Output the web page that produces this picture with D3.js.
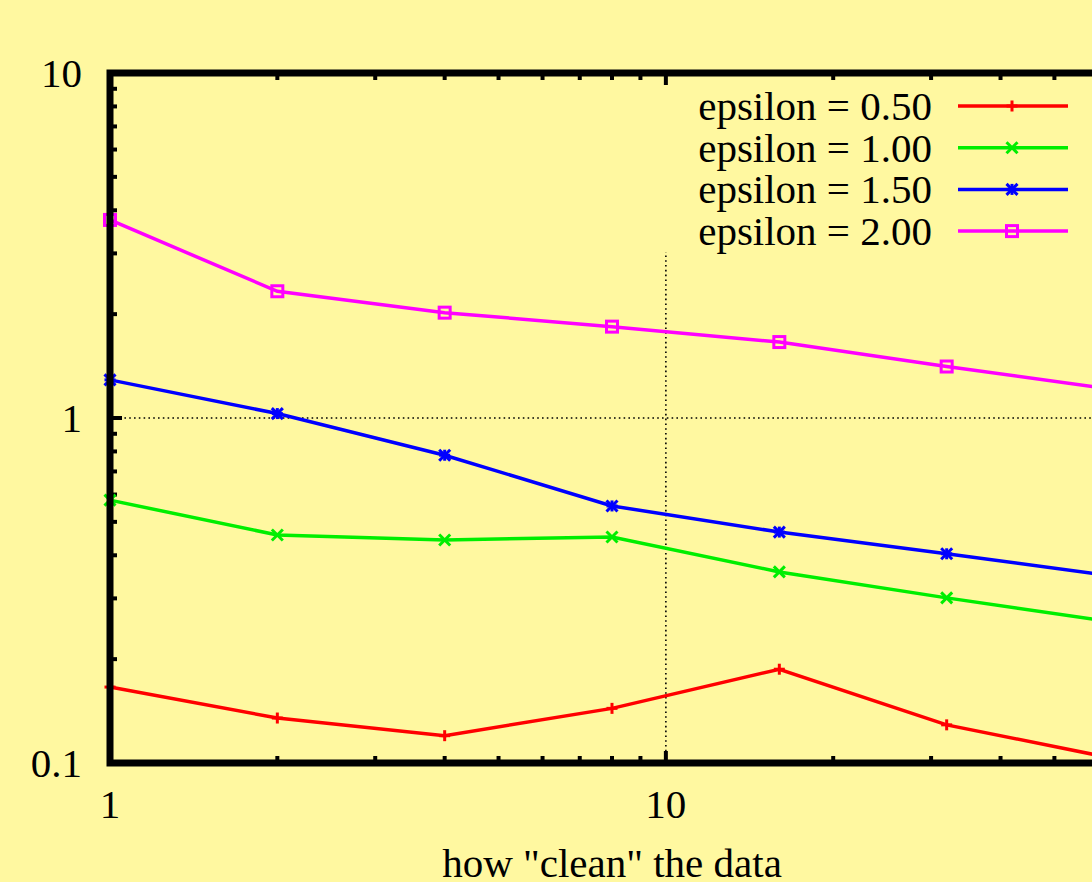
<!DOCTYPE html>
<html>
<head>
<meta charset="utf-8">
<script src="https://cdn.jsdelivr.net/npm/d3@7"></script>
<style>
  html, body { margin: 0; padding: 0; background: #fff8a0; overflow: hidden; }
  svg text { font-family: "Liberation Serif", "DejaVu Serif", serif; fill: #000; }
</style>
</head>
<body>
<div class="chart"></div>
<script>
// data
var xValues = [1, 2, 4, 8, 16, 32, 64];
var seriesNames = ["epsilon = 0.50", "epsilon = 1.00", "epsilon = 1.50", "epsilon = 2.00"];
var eps050 = [0.166, 0.135, 0.120, 0.144, 0.187, 0.129, 0.103];
var eps100 = [0.578, 0.458, 0.443, 0.452, 0.358, 0.301, 0.256];
var eps150 = [1.29, 1.03, 0.78, 0.556, 0.467, 0.404, 0.348];
var eps200 = [3.75, 2.33, 2.02, 1.84, 1.66, 1.41, 1.21];
var xTicks = [1, 10];
var yTicks = [0.1, 1, 10];
var xLabel = 'how "clean" the data';

var colors = ["#ff0000", "#00ee00", "#0000ff", "#ff00ff"];
var markers = ["plus", "cross", "star", "square"];
var allSeries = [eps050, eps100, eps150, eps200];

var width = 1092, height = 882;
// plot box (window.top is reserved, so use own names)
var plotL = 110, plotR = 1114, plotT = 73, plotB = 763;

var x = d3.scaleLog().domain([1, 64]).range([plotL, plotR]);
var y = d3.scaleLog().domain([0.1, 10]).range([plotB, plotT]);

var svg = d3.select("div.chart")
    .append("svg")
    .attr("width", width)
    .attr("height", height);

svg.append("rect")
    .attr("width", width)
    .attr("height", height)
    .attr("fill", "#fff8a0");

// grid (dotted), only at inner major ticks
var grid = svg.append("g").attr("class", "grid");
grid.selectAll("line.gx")
    .data(xTicks.filter(function (d) { return d != 1; }))
    .enter().append("line")
    .attr("x1", function (d) { return x(d); })
    .attr("x2", function (d) { return x(d); })
    .attr("y1", plotT)
    .attr("y2", plotB);
grid.selectAll("line.gy")
    .data(yTicks.filter(function (d) { return d != 0.1 && d != 10; }))
    .enter().append("line")
    .attr("x1", plotL)
    .attr("x2", plotR)
    .attr("y1", function (d) { return y(d); })
    .attr("y2", function (d) { return y(d); });
grid.selectAll("line")
    .attr("stroke", "#000")
    .attr("stroke-width", 1.6)
    .attr("stroke-dasharray", "1.6,3.2");

// minor / major ticks
var xMinor = [], yMinor = [];
[1, 10].forEach(function (dec) {
    for (var k = 2; k <= 9; k++) {
        if (dec * k <= 64) xMinor.push(dec * k);
    }
});
[0.1, 1].forEach(function (dec) {
    for (var k = 2; k <= 9; k++) yMinor.push(dec * k);
});

var ticks = svg.append("g").attr("class", "ticks")
    .attr("stroke", "#000")
    .attr("stroke-width", 4);

function xTick(v, len) {
    ticks.append("line").attr("x1", x(v)).attr("x2", x(v)).attr("y1", plotB).attr("y2", plotB - len);
    ticks.append("line").attr("x1", x(v)).attr("x2", x(v)).attr("y1", plotT).attr("y2", plotT + len);
}
function yTick(v, len) {
    ticks.append("line").attr("x1", plotL).attr("x2", plotL + len).attr("y1", y(v)).attr("y2", y(v));
    ticks.append("line").attr("x1", plotR).attr("x2", plotR - len).attr("y1", y(v)).attr("y2", y(v));
}
xMinor.forEach(function (v) { xTick(v, 7); });
xTicks.forEach(function (v) { xTick(v, 12); });
yMinor.forEach(function (v) { yTick(v, 7); });
yTicks.forEach(function (v) { yTick(v, 12); });

// tick labels
svg.selectAll("text.xt")
    .data(xTicks)
    .enter().append("text")
    .attr("class", "xt")
    .attr("x", function (d) { return x(d); })
    .attr("y", 818)
    .attr("text-anchor", "middle")
    .style("font-size", "41px")
    .text(function (d) { return d; });

svg.selectAll("text.yt")
    .data(yTicks)
    .enter().append("text")
    .attr("class", "yt")
    .attr("x", 82)
    .attr("y", function (d) { return y(d) + 14; })
    .attr("text-anchor", "end")
    .style("font-size", "41px")
    .text(function (d) { return d; });

svg.append("text")
    .attr("x", (plotL + plotR) / 2)
    .attr("y", 877)
    .attr("text-anchor", "middle")
    .style("font-size", "41px")
    .text(xLabel);

// markers
function drawMarker(g, type, cx, cy, color) {
    var s = 5.5;
    if (type == "plus" || type == "star") {
        g.append("line").attr("x1", cx - s).attr("x2", cx + s).attr("y1", cy).attr("y2", cy);
        g.append("line").attr("x1", cx).attr("x2", cx).attr("y1", cy - s).attr("y2", cy + s);
    }
    if (type == "cross" || type == "star") {
        g.append("line").attr("x1", cx - s).attr("x2", cx + s).attr("y1", cy - s).attr("y2", cy + s);
        g.append("line").attr("x1", cx - s).attr("x2", cx + s).attr("y1", cy + s).attr("y2", cy - s);
    }
    if (type == "square") {
        g.append("rect").attr("x", cx - 5.5).attr("y", cy - 5.5).attr("width", 11).attr("height", 11)
            .attr("fill", "none");
    }
    g.selectAll("line, rect").attr("stroke", color).attr("stroke-width", 3);
}

var line = d3.line()
    .x(function (d) { return x(d[0]); })
    .y(function (d) { return y(d[1]); });

allSeries.forEach(function (vals, i) {
    var pts = xValues.map(function (xv, j) { return [xv, vals[j]]; });
    var g = svg.append("g").attr("class", "series");
    g.append("path")
        .attr("d", line(pts))
        .attr("fill", "none")
        .attr("stroke", colors[i])
        .attr("stroke-width", 3.5);
    pts.forEach(function (p) {
        var m = g.append("g");
        drawMarker(m, markers[i], x(p[0]), y(p[1]), colors[i]);
    });
});

// key (opaque box hides the grid behind it)
var key = svg.append("g").attr("class", "key");
key.append("rect")
    .attr("x", 655)
    .attr("y", plotT + 13)
    .attr("width", plotR - 655 - 13)
    .attr("height", 252 - plotT - 13)
    .attr("fill", "#fff8a0");

seriesNames.forEach(function (name, i) {
    var ky = 106 + i * 41.7;
    key.append("text")
        .attr("x", 932)
        .attr("y", ky + 14)
        .attr("text-anchor", "end")
        .style("font-size", "41px")
        .text(name);
    key.append("line")
        .attr("x1", 958).attr("x2", 1068)
        .attr("y1", ky).attr("y2", ky)
        .attr("stroke", colors[i])
        .attr("stroke-width", 3.5);
    var m = key.append("g");
    drawMarker(m, markers[i], 1012, ky, colors[i]);
});

// frame
svg.append("rect")
    .attr("x", plotL)
    .attr("y", plotT)
    .attr("width", plotR - plotL)
    .attr("height", plotB - plotT)
    .attr("fill", "none")
    .attr("stroke", "#000")
    .attr("stroke-width", 7);
</script>
</body>
</html>
